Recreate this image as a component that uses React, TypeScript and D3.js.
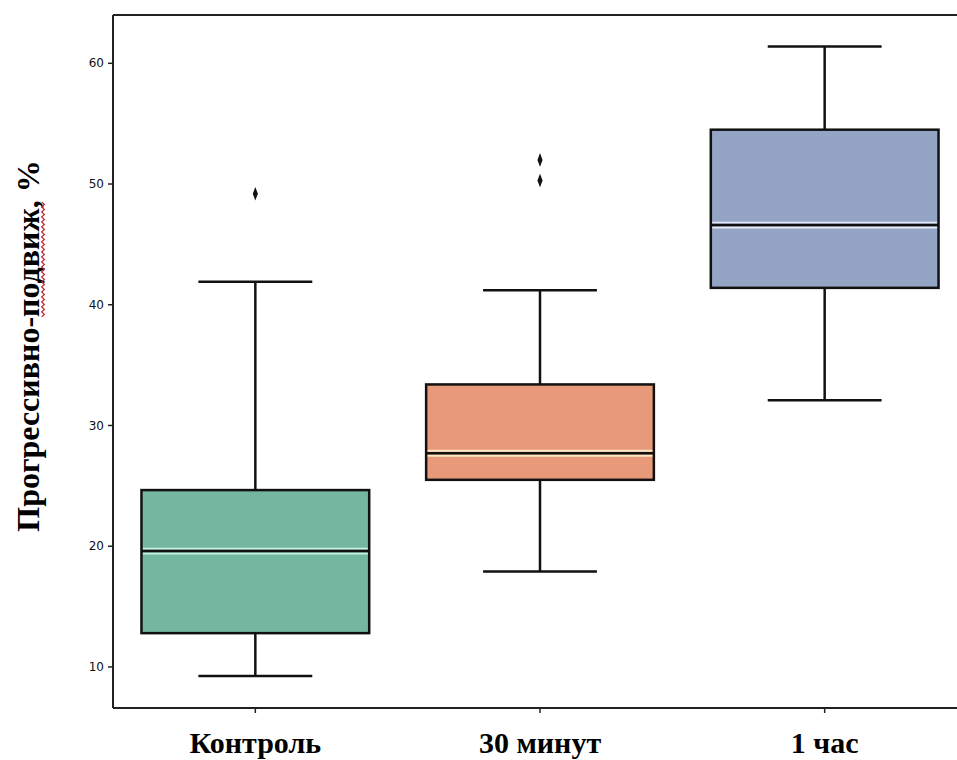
import React, { useEffect, useRef, useState } from "react";
import * as d3 from "d3";

const categories = ["Контроль", "30 минут", "1 час"];
const whiskerLow = [9.25, 17.9, 32.1];
const q1 = [12.8, 25.5, 41.4];
const median = [19.6, 27.7, 46.6];
const q3 = [24.65, 33.4, 54.5];
const whiskerHigh = [41.9, 41.2, 61.4];
const outliers: number[][] = [[49.2], [50.3, 52.0], []];
const colors = ["#74b7a1", "#e8997a", "#94a4c4"];
const medianGlow = ["#c9f2e2", "#f7e7c2", "#e6ecf7"];
const yTicks = [10, 20, 30, 40, 50, 60];
const yLabel = "Прогрессивно-подвиж, %";

const W = 957;
const H = 760;
const left = 113;
const top = 15;
const bottom = 708;
const rightExt = 967;

export default function App() {
  const x = d3.scaleBand<string>().domain(categories).range([left, rightExt]).paddingInner(0).paddingOuter(0);
  const y = d3.scaleLinear().domain([6.6, 64]).range([bottom, top]);
  const bw = x.bandwidth() * 0.8;
  const textRef = useRef<SVGTextElement>(null);
  const [wave, setWave] = useState<string>("");

  useEffect(() => {
    const t = textRef.current;
    if (!t) return;
    const total = t.getComputedTextLength();
    const startIdx = yLabel.indexOf("подвиж");
    const s = t.getSubStringLength(0, startIdx);
    const l = t.getSubStringLength(startIdx, 7);
    const x0 = -total / 2 + s;
    const x1 = x0 + l;
    const pts: [number, number][] = [];
    let i = 0;
    for (let xx = x0; xx <= x1; xx += 2.5, i++) pts.push([xx, 4 + (i % 2 === 0 ? -1.3 : 1.3)]);
    setWave(d3.line()(pts) || "");
  }, []);

  const diamond = d3.symbol().type(d3.symbolDiamond).size(40)();

  return (
    <div style={{ position: "absolute", left: 0, top: 0 }}>
      <svg width={W} height={H} style={{ display: "block", background: "#fff" }}>
        {/* spines */}
        <line x1={left} x2={W} y1={top} y2={top} stroke="#222" strokeWidth={2} />
        <line x1={left} x2={left} y1={top} y2={bottom} stroke="#222" strokeWidth={2} />
        <line x1={left} x2={W} y1={bottom} y2={bottom} stroke="#222" strokeWidth={2} />
        {/* y ticks */}
        {yTicks.map((t) => (
          <g key={t} transform={`translate(0,${y(t)})`}>
            <line x1={left - 5} x2={left} stroke="#222" strokeWidth={1.5} />
            <text x={left - 9} dy="0.35em" textAnchor="end" fontFamily="DejaVu Sans" fontSize={12} fill="#111">
              {t}
            </text>
          </g>
        ))}
        {/* x ticks */}
        {categories.map((c) => {
          const cx = (x(c) as number) + x.bandwidth() / 2;
          return (
            <g key={c}>
              <line x1={cx} x2={cx} y1={bottom} y2={bottom + 5} stroke="#222" strokeWidth={1.5} />
              <text x={cx} y={bottom + 45} textAnchor="middle" fontFamily="Liberation Serif" fontWeight="bold" fontSize={30} fill="#000">
                {c}
              </text>
            </g>
          );
        })}
        {/* boxes */}
        {categories.map((c, i) => {
          const cx = (x(c) as number) + x.bandwidth() / 2;
          const capW = bw / 2;
          return (
            <g key={c}>
              <line x1={cx} x2={cx} y1={y(whiskerLow[i])} y2={y(q1[i])} stroke="#111" strokeWidth={2.5} />
              <line x1={cx} x2={cx} y1={y(q3[i])} y2={y(whiskerHigh[i])} stroke="#111" strokeWidth={2.5} />
              <line x1={cx - capW / 2} x2={cx + capW / 2} y1={y(whiskerLow[i])} y2={y(whiskerLow[i])} stroke="#111" strokeWidth={2.5} />
              <line x1={cx - capW / 2} x2={cx + capW / 2} y1={y(whiskerHigh[i])} y2={y(whiskerHigh[i])} stroke="#111" strokeWidth={2.5} />
              <rect x={cx - bw / 2} width={bw} y={y(q3[i])} height={y(q1[i]) - y(q3[i])} fill={colors[i]} stroke="#111" strokeWidth={2.5} />
              <line x1={cx - bw / 2 + 1.5} x2={cx + bw / 2 - 1.5} y1={y(median[i]) - 2.5} y2={y(median[i]) - 2.5} stroke={medianGlow[i]} strokeWidth={1.8} />
              <line x1={cx - bw / 2 + 1.5} x2={cx + bw / 2 - 1.5} y1={y(median[i]) + 2.5} y2={y(median[i]) + 2.5} stroke={medianGlow[i]} strokeWidth={1.8} />
              <line x1={cx - bw / 2} x2={cx + bw / 2} y1={y(median[i])} y2={y(median[i])} stroke="#111" strokeWidth={2.5} />
              {outliers[i].map((o, j) => (
                <path key={j} d={diamond} transform={`translate(${cx},${y(o)}) scale(0.75,1.15)`} fill="#111" />
              ))}
            </g>
          );
        })}
        {/* y label */}
        <g transform={`translate(39,346) rotate(-90)`}>
          <text ref={textRef} textAnchor="middle" fontFamily="Liberation Serif" fontWeight="bold" fontSize={32} fill="#000">
            {yLabel}
          </text>
          {wave && <path d={wave} fill="none" stroke="#c0272d" strokeWidth={1.3} />}
        </g>
      </svg>
    </div>
  );
}
